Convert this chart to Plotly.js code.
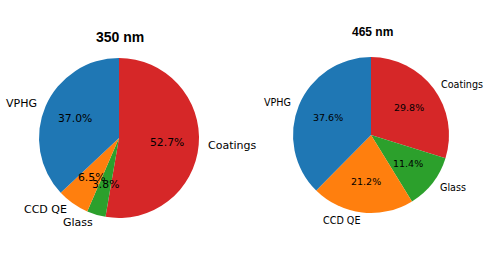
<!DOCTYPE html>
<html>
<head>
<meta charset="utf-8">
<script src="https://cdn.plot.ly/plotly-3.0.1.min.js"></script>
<style>html,body{margin:0;padding:0;background:#fff;}</style>
</head>
<body>
<div id="chart" style="width:491px;height:276px;"></div>
<script>
const labels = ['VPHG', 'CCD QE', 'Glass', 'Coatings'];
const values350 = [37.0, 6.5, 3.8, 52.7];
const values465 = [37.6, 21.2, 11.4, 29.8];
const titles = ['350 nm', '465 nm'];
const colors = ['#1f77b4', '#ff7f0e', '#2ca02c', '#d62728'];

const W = 491, H = 276;
const pies = [
  {values: values350, title: titles[0], cx: 119, cy: 138, r: 80, lab: 11, pct: 10.8, tsize: 14, tx: 120, ty: 37},
  {values: values465, title: titles[1], cx: 371, cy: 135, r: 78, lab: 9.6, pct: 9.5, tsize: 12, tx: 372, ty: 32}
];

const traces = [];
const annotations = [];
const lblFont = 'DejaVu Sans, sans-serif';

pies.forEach(p => {
  // counterclockwise from 12 o'clock == clockwise with reversed order
  traces.push({
    type: 'pie',
    labels: labels.slice().reverse(),
    values: p.values.slice().reverse(),
    sort: false,
    direction: 'clockwise',
    rotation: 0,
    textinfo: 'none',
    hoverinfo: 'label+percent',
    marker: {colors: colors.slice().reverse(), line: {width: 0}},
    domain: {x: [(p.cx - p.r) / W, (p.cx + p.r) / W], y: [1 - (p.cy + p.r) / H, 1 - (p.cy - p.r) / H]},
    showlegend: false
  });
  const total = p.values.reduce((a, b) => a + b, 0);
  let cum = 0;
  p.values.forEach((v, i) => {
    const a0 = 90 + 360 * cum / total;
    cum += v;
    const a1 = 90 + 360 * cum / total;
    const mid = (a0 + a1) / 2 * Math.PI / 180;
    const c = Math.cos(mid), s = Math.sin(mid);
    annotations.push({
      xref: 'paper', yref: 'paper',
      x: (p.cx + 0.6 * p.r * c) / W, y: 1 - (p.cy - 0.6 * p.r * s) / H,
      text: (v / total * 100).toFixed(1) + '%',
      showarrow: false, xanchor: 'center', yanchor: 'middle', borderpad: 0,
      font: {family: lblFont, size: p.pct, color: '#000'}
    });
    annotations.push({
      xref: 'paper', yref: 'paper',
      x: (p.cx + 1.1 * p.r * c) / W, y: 1 - (p.cy - 1.1 * p.r * s) / H,
      text: labels[i],
      showarrow: false, xanchor: c < 0 ? 'right' : 'left', yanchor: 'middle', borderpad: 0,
      font: {family: lblFont, size: p.lab, color: '#000'}
    });
  });
  annotations.push({
    xref: 'paper', yref: 'paper',
    x: p.tx / W, y: 1 - p.ty / H,
    text: '<b>' + p.title + '</b>',
    showarrow: false, xanchor: 'center', yanchor: 'middle', borderpad: 0,
    font: {family: 'Liberation Sans, Arial, sans-serif', size: p.tsize, color: '#000'}
  });
});

Plotly.newPlot('chart', traces, {
  width: W, height: H,
  margin: {l: 0, r: 0, t: 0, b: 0},
  paper_bgcolor: '#fff',
  annotations: annotations
}, {displayModeBar: false, staticPlot: true});
</script>
</body>
</html>
